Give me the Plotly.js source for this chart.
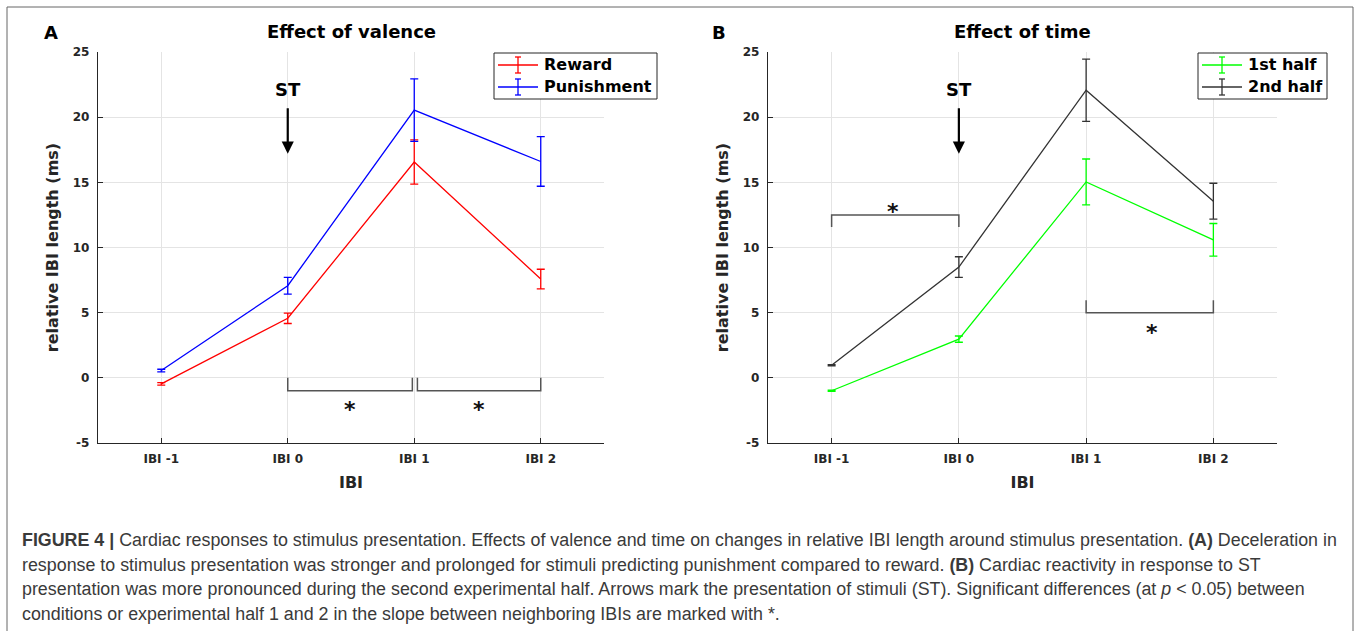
<!DOCTYPE html>
<html>
<head>
<meta charset="utf-8">
<script src="https://cdn.plot.ly/plotly-3.0.1.min.js"></script>
<style>html,body{margin:0;padding:0;background:#fff;}#chart{width:1357px;height:631px;}</style>
</head>
<body>
<div id="chart"></div>
<script>
// ---- data ----
const categories = ['IBI -1', 'IBI 0', 'IBI 1', 'IBI 2'];
const yTicks = [-5, 0, 5, 10, 15, 20, 25];
const yTickText = ['-5', '0', '5', '10', '15', '20', '25'];

const rewardMean = [-0.46, 4.57, 16.56, 7.58];
const rewardErr = [0.1, 0.4, 1.7, 0.75];
const punishMean = [0.56, 7.07, 20.54, 16.6];
const punishErr = [0.1, 0.64, 2.4, 1.9];

const firstMean = [-0.99, 2.97, 15.03, 10.59];
const firstErr = [0.05, 0.24, 1.76, 1.25];
const secondMean = [0.97, 8.5, 22.07, 13.55];
const secondErr = [0.05, 0.79, 2.39, 1.38];

const legendA = ['Reward', 'Punishment'];
const legendB = ['1st half', '2nd half'];

// ---- layout helpers ----
const W = 1357, H = 631;
const px = x => x / W;
const py = y => 1 - y / H;
const FONT = 'DejaVu Sans, Verdana, sans-serif';
const AX = '#262626';

function trace(y, err, color, name, xa, ya) {
  return {
    type: 'scatter', mode: 'lines', x: categories, y: y, name: name,
    xaxis: xa, yaxis: ya, showlegend: false,
    line: {color: color, width: 1.3},
    error_y: {type: 'data', array: err, visible: true, color: color, thickness: 1.3, width: 4},
    hoverinfo: 'x+y'
  };
}

const colA = ['#ff0000', '#0000ff'];
const colB = ['#00ff00', '#333333'];

const data = [
  trace(rewardMean, rewardErr, colA[0], legendA[0], 'x', 'y'),
  trace(punishMean, punishErr, colA[1], legendA[1], 'x', 'y'),
  trace(firstMean, firstErr, colB[0], legendB[0], 'x2', 'y2'),
  trace(secondMean, secondErr, colB[1], legendB[1], 'x2', 'y2')
];

function xAxis(domain, anchor) {
  return {
    domain: domain, anchor: anchor, type: 'category', range: [-0.5, 3.5],
    showgrid: true, gridcolor: '#e4e4e4', gridwidth: 1,
    showline: true, linecolor: AX, linewidth: 1.2,
    ticks: 'inside', ticklen: 5, tickcolor: AX, tickwidth: 1,
    tickfont: {family: FONT, size: 12, weight: 'bold', color: AX},
    ticklabelstandoff: 4, zeroline: false, fixedrange: true,
    title: {text: 'IBI', font: {family: FONT, size: 16, weight: 'bold', color: AX}, standoff: 12}
  };
}
function yAxis(domain, anchor) {
  return {
    domain: domain, anchor: anchor, range: [-5, 25], tickvals: yTicks, ticktext: yTickText,
    showgrid: true, gridcolor: '#e4e4e4', gridwidth: 1,
    showline: true, linecolor: AX, linewidth: 1.2,
    ticks: 'inside', ticklen: 5, tickcolor: AX, tickwidth: 1,
    tickfont: {family: FONT, size: 12, weight: 'bold', color: AX},
    ticklabelstandoff: 5, zeroline: false, fixedrange: true,
    title: {text: 'relative IBI length (ms)', font: {family: FONT, size: 16, weight: 'bold', color: AX}, standoff: 10}
  };
}

const shapes = [];
const annotations = [];

// figure frame
shapes.push({type: 'rect', xref: 'paper', yref: 'paper', x0: px(7), x1: px(1353), y0: py(660), y1: py(7),
  line: {color: '#666', width: 1}, fillcolor: 'rgba(0,0,0,0)', layer: 'below'});

function bracket(xr, yr, xs, ys) {
  let path = 'M' + xs[0] + ',' + ys[0];
  for (let i = 1; i < xs.length; i++) path += ' L' + xs[i] + ',' + ys[i];
  shapes.push({type: 'path', xref: xr, yref: yr, path: path, line: {color: '#555', width: 1.5}});
}
// panel A significance brackets
bracket('x', 'y', [1, 1, 1.985, 1.985], [0, -1, -1, 0]);
bracket('x', 'y', [2.025, 2.025, 3, 3], [0, -1, -1, 0]);
// panel B significance brackets
bracket('x2', 'y2', [0, 0, 1, 1], [11.57, 12.5, 12.5, 11.57]);
bracket('x2', 'y2', [2, 2, 3, 3], [5.95, 5, 5, 5.95]);

function star(xr, yr, x, y) {
  annotations.push({xref: xr, yref: yr, x: x, y: y, text: '*', showarrow: false,
    font: {family: FONT, size: 22, weight: 'bold', color: '#111'}, yshift: -5});
}
star('x', 'y', 1.49, -2.08);
star('x', 'y', 2.51, -2.08);
star('x2', 'y2', 0.485, 13.18);
star('x2', 'y2', 2.52, 3.9);

function stArrow(xr, yr) {
  annotations.push({xref: xr, yref: yr, x: 1, y: 22.15, text: 'ST', showarrow: false,
    font: {family: FONT, size: 18, weight: 'bold', color: '#000'}});
  annotations.push({xref: xr, yref: yr, axref: xr, ayref: yr, x: 1, y: 17.2, ax: 1, ay: 20.8,
    text: '', showarrow: true, arrowhead: 2, arrowsize: 1.1, arrowwidth: 2.2, arrowcolor: '#000'});
}
stArrow('x', 'y');
stArrow('x2', 'y2');

// panel titles and letters
function paperText(x, y, text, size, extra) {
  annotations.push(Object.assign({xref: 'paper', yref: 'paper', x: px(x), y: py(y), text: text,
    xanchor: 'center', yanchor: 'middle',
    showarrow: false, font: {family: FONT, size: size, weight: 'bold', color: '#000'}}, extra || {}));
}
paperText(351, 31, 'Effect of valence', 18);
paperText(1022, 31, 'Effect of time', 18);
paperText(51, 32, 'A', 18);
paperText(719, 32, 'B', 18);

// legends (line + error-bar glyph + bold label in a framed box)
function legend(left, right, names, colors) {
  shapes.push({type: 'rect', xref: 'paper', yref: 'paper', x0: px(left), x1: px(right), y0: py(99), y1: py(53),
    line: {color: AX, width: 1}, fillcolor: '#ffffff'});
  const rows = [65, 87];
  names.forEach((n, i) => {
    const y = rows[i], c = colors[i], gx = left + 24;
    shapes.push({type: 'line', xref: 'paper', yref: 'paper', x0: px(left + 4), x1: px(left + 44), y0: py(y), y1: py(y), line: {color: c, width: 1.3}});
    shapes.push({type: 'line', xref: 'paper', yref: 'paper', x0: px(gx), x1: px(gx), y0: py(y - 8), y1: py(y + 8), line: {color: c, width: 1.3}});
    shapes.push({type: 'line', xref: 'paper', yref: 'paper', x0: px(gx - 3), x1: px(gx + 3), y0: py(y - 8), y1: py(y - 8), line: {color: c, width: 1.3}});
    shapes.push({type: 'line', xref: 'paper', yref: 'paper', x0: px(gx - 3), x1: px(gx + 3), y0: py(y + 8), y1: py(y + 8), line: {color: c, width: 1.3}});
    paperText(left + 48, y, n, 16, {xanchor: 'left'});
  });
}
legend(494, 657, legendA, colA);
legend(1198, 1327, legendB, colB);

// caption
const captionLines = [
  '<b>FIGURE 4 |</b> Cardiac responses to stimulus presentation. Effects of valence and time on changes in relative IBI length around stimulus presentation. <b>(A)</b> Deceleration in',
  'response to stimulus presentation was stronger and prolonged for stimuli predicting punishment compared to reward. <b>(B)</b> Cardiac reactivity in response to ST',
  'presentation was more pronounced during the second experimental half. Arrows mark the presentation of stimuli (ST). Significant differences (at <i>p</i> &lt; 0.05) between',
  'conditions or experimental half 1 and 2 in the slope between neighboring IBIs are marked with *.'
];
const captionY = [540, 564.5, 589, 613.5];
captionLines.forEach((t, i) => {
  annotations.push({xref: 'paper', yref: 'paper', x: px(20), y: py(captionY[i]), xanchor: 'left', yanchor: 'middle',
    text: t, showarrow: false, font: {family: 'Liberation Sans, Arial, sans-serif', size: 17.85, color: '#3a3a3a'}});
});

const layout = {
  width: W, height: H, margin: {l: 0, r: 0, t: 0, b: 0},
  paper_bgcolor: '#fff', plot_bgcolor: '#fff',
  xaxis: xAxis([px(98), px(604)], 'y'),
  yaxis: yAxis([py(443), py(52)], 'x'),
  xaxis2: xAxis([px(768), px(1277)], 'y2'),
  yaxis2: yAxis([py(443), py(52)], 'x2'),
  showlegend: false,
  shapes: shapes,
  annotations: annotations
};

Plotly.newPlot('chart', data, layout, {displayModeBar: false, staticPlot: true});
</script>
</body>
</html>
